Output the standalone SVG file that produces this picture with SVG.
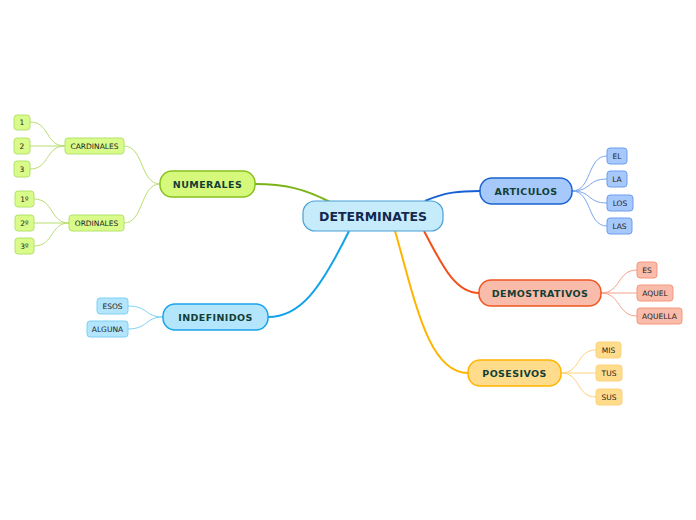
<svg xmlns="http://www.w3.org/2000/svg" width="696" height="520" viewBox="0 0 696 520">
<style>
text{font-family:"DejaVu Sans",Verdana,sans-serif;text-anchor:middle;dominant-baseline:central}
.main{font-size:9.5px;font-weight:bold;fill:#123f36;letter-spacing:0.4px}
.leaf{font-size:7.5px;fill:#222}
.c{fill:none}
</style>
<rect width="696" height="520" fill="#fff"/>
<g id="connectors" class="c">
<path d="M330,202 C305,189 285,184 255,184" stroke="#7ab317" stroke-width="2"/>
<path d="M425,201 C445,192 460,191 480,191" stroke="#1560d6" stroke-width="2"/>
<path d="M424,231 C442,265 455,293 479,293" stroke="#f2511b" stroke-width="2"/>
<path d="M395,231 C415,300 428,373 468,373" stroke="#ffb400" stroke-width="2"/>
<path d="M349,231 C320,290 300,317 268,317" stroke="#12a3e8" stroke-width="2"/>
<g stroke="#b9de70" stroke-width="1">
<path d="M160,184 C140,184 144,146 124,146"/>
<path d="M160,184 C140,184 144,223 124,223"/>
<path d="M65,146 C45,146 50,122 30,122"/>
<path d="M65,146 L30,146"/>
<path d="M65,146 C45,146 50,169 30,169"/>
<path d="M69,223 C50,223 54,199 34,199"/>
<path d="M69,223 L34,223"/>
<path d="M69,223 C50,223 54,246 34,246"/>
</g>
<g stroke="#7fd0f3" stroke-width="1">
<path d="M163,317 C145,317 148,306 128,306"/>
<path d="M163,317 C145,317 148,329 128,329"/>
</g>
<g stroke="#7aa6ee" stroke-width="1">
<path d="M572,191 C592,191 587,156 607,156"/>
<path d="M572,191 C592,191 587,179 607,179"/>
<path d="M572,191 C592,191 587,203 607,203"/>
<path d="M572,191 C592,191 587,226 607,226"/>
</g>
<g stroke="#f7a08a" stroke-width="1">
<path d="M601,293 C621,293 617,270 637,270"/>
<path d="M601,293 L637,293"/>
<path d="M601,293 C621,293 617,316 637,316"/>
</g>
<g stroke="#fdd27a" stroke-width="1">
<path d="M561,373 C581,373 576,350 596,350"/>
<path d="M561,373 L596,373"/>
<path d="M561,373 C581,373 576,397 596,397"/>
</g>
</g>
<g id="central"><rect x="303" y="201" width="140" height="30" rx="12" fill="#c6ecfb" stroke="#4a9fd8" stroke-width="1.2"/><text x="373" y="216.5" style="font-size:12.5px;font-weight:bold;fill:#14284f">DETERMINATES</text></g>
<g id="numerales"><rect x="160" y="171" width="95" height="26" rx="12" fill="#d6f97c" stroke="#86c21e" stroke-width="1.5"/><text class="main" x="207.5" y="184.5">NUMERALES</text></g>
<g id="cardinales"><rect x="65" y="138" width="59" height="16" rx="3" fill="#d9fb8a" stroke="#b4e26a"/><text class="leaf" x="94.5" y="146.5">CARDINALES</text></g>
<g id="n1"><rect x="14" y="115" width="16" height="15" rx="3" fill="#d9fb8a" stroke="#b4e26a"/><text class="leaf" x="22" y="122.5">1</text></g>
<g id="n2"><rect x="14" y="138" width="16" height="16" rx="3" fill="#d9fb8a" stroke="#b4e26a"/><text class="leaf" x="22" y="146">2</text></g>
<g id="n3"><rect x="14" y="161" width="16" height="16" rx="3" fill="#d9fb8a" stroke="#b4e26a"/><text class="leaf" x="22" y="169.5">3</text></g>
<g id="ordinales"><rect x="69" y="215" width="55" height="16" rx="3" fill="#d9fb8a" stroke="#b4e26a"/><text class="leaf" x="96.5" y="223.5">ORDINALES</text></g>
<g id="o1"><rect x="15" y="191" width="19" height="16" rx="3" fill="#d9fb8a" stroke="#b4e26a"/><text class="leaf" x="24.5" y="199.5">1º</text></g>
<g id="o2"><rect x="15" y="215" width="19" height="16" rx="3" fill="#d9fb8a" stroke="#b4e26a"/><text class="leaf" x="24.5" y="223.5">2º</text></g>
<g id="o3"><rect x="15" y="238" width="19" height="16" rx="3" fill="#d9fb8a" stroke="#b4e26a"/><text class="leaf" x="24.5" y="246.5">3º</text></g>
<g id="indefinidos"><rect x="163" y="304" width="105" height="26" rx="12" fill="#b3e5fc" stroke="#1aa3e8" stroke-width="1.5"/><text class="main" x="215.5" y="317.5">INDEFINIDOS</text></g>
<g id="esos"><rect x="97" y="298" width="31" height="16" rx="3" fill="#b3e5fc" stroke="#7fd0f3"/><text class="leaf" x="112.5" y="306.5">ESOS</text></g>
<g id="alguna"><rect x="87" y="321" width="41" height="16" rx="3" fill="#b3e5fc" stroke="#7fd0f3"/><text class="leaf" x="107.5" y="329.5">ALGUNA</text></g>
<g id="articulos"><rect x="480" y="178" width="92" height="26" rx="12" fill="#a7c8fb" stroke="#1a64d0" stroke-width="1.5"/><text class="main" x="526" y="191.5">ARTICULOS</text></g>
<g id="el"><rect x="607" y="148" width="20" height="16" rx="3" fill="#a7c8fb" stroke="#6d9ef0"/><text class="leaf" x="617" y="156.5">EL</text></g>
<g id="la"><rect x="607" y="171" width="20" height="16" rx="3" fill="#a7c8fb" stroke="#6d9ef0"/><text class="leaf" x="617" y="179.5">LA</text></g>
<g id="los"><rect x="607" y="195" width="26" height="16" rx="3" fill="#a7c8fb" stroke="#6d9ef0"/><text class="leaf" x="620" y="203.5">LOS</text></g>
<g id="las"><rect x="607" y="218" width="25" height="16" rx="3" fill="#a7c8fb" stroke="#6d9ef0"/><text class="leaf" x="619.5" y="226.5">LAS</text></g>
<g id="demostrativos"><rect x="479" y="280" width="122" height="26" rx="12" fill="#f9bcaa" stroke="#f05522" stroke-width="1.5"/><text class="main" x="540" y="293.5">DEMOSTRATIVOS</text></g>
<g id="es"><rect x="637" y="262" width="20" height="16" rx="3" fill="#f9bcaa" stroke="#f7967c"/><text class="leaf" x="647" y="270.5">ES</text></g>
<g id="aquel"><rect x="637" y="285" width="36" height="16" rx="3" fill="#f9bcaa" stroke="#f7967c"/><text class="leaf" x="655" y="293.5">AQUEL</text></g>
<g id="aquella"><rect x="637" y="308" width="45" height="16" rx="3" fill="#f9bcaa" stroke="#f7967c"/><text class="leaf" x="659.5" y="316.5">AQUELLA</text></g>
<g id="posesivos"><rect x="468" y="360" width="93" height="26" rx="12" fill="#fedc8c" stroke="#ffb400" stroke-width="1.5"/><text class="main" x="514.5" y="373.5">POSESIVOS</text></g>
<g id="mis"><rect x="596" y="342" width="25" height="16" rx="3" fill="#fedc8c" stroke="#fdd27a"/><text class="leaf" x="608.5" y="350.5">MIS</text></g>
<g id="tus"><rect x="596" y="365" width="26" height="16" rx="3" fill="#fedc8c" stroke="#fdd27a"/><text class="leaf" x="609" y="373.5">TUS</text></g>
<g id="sus"><rect x="596" y="389" width="26" height="16" rx="3" fill="#fedc8c" stroke="#fdd27a"/><text class="leaf" x="609" y="397.5">SUS</text></g>
</svg>
